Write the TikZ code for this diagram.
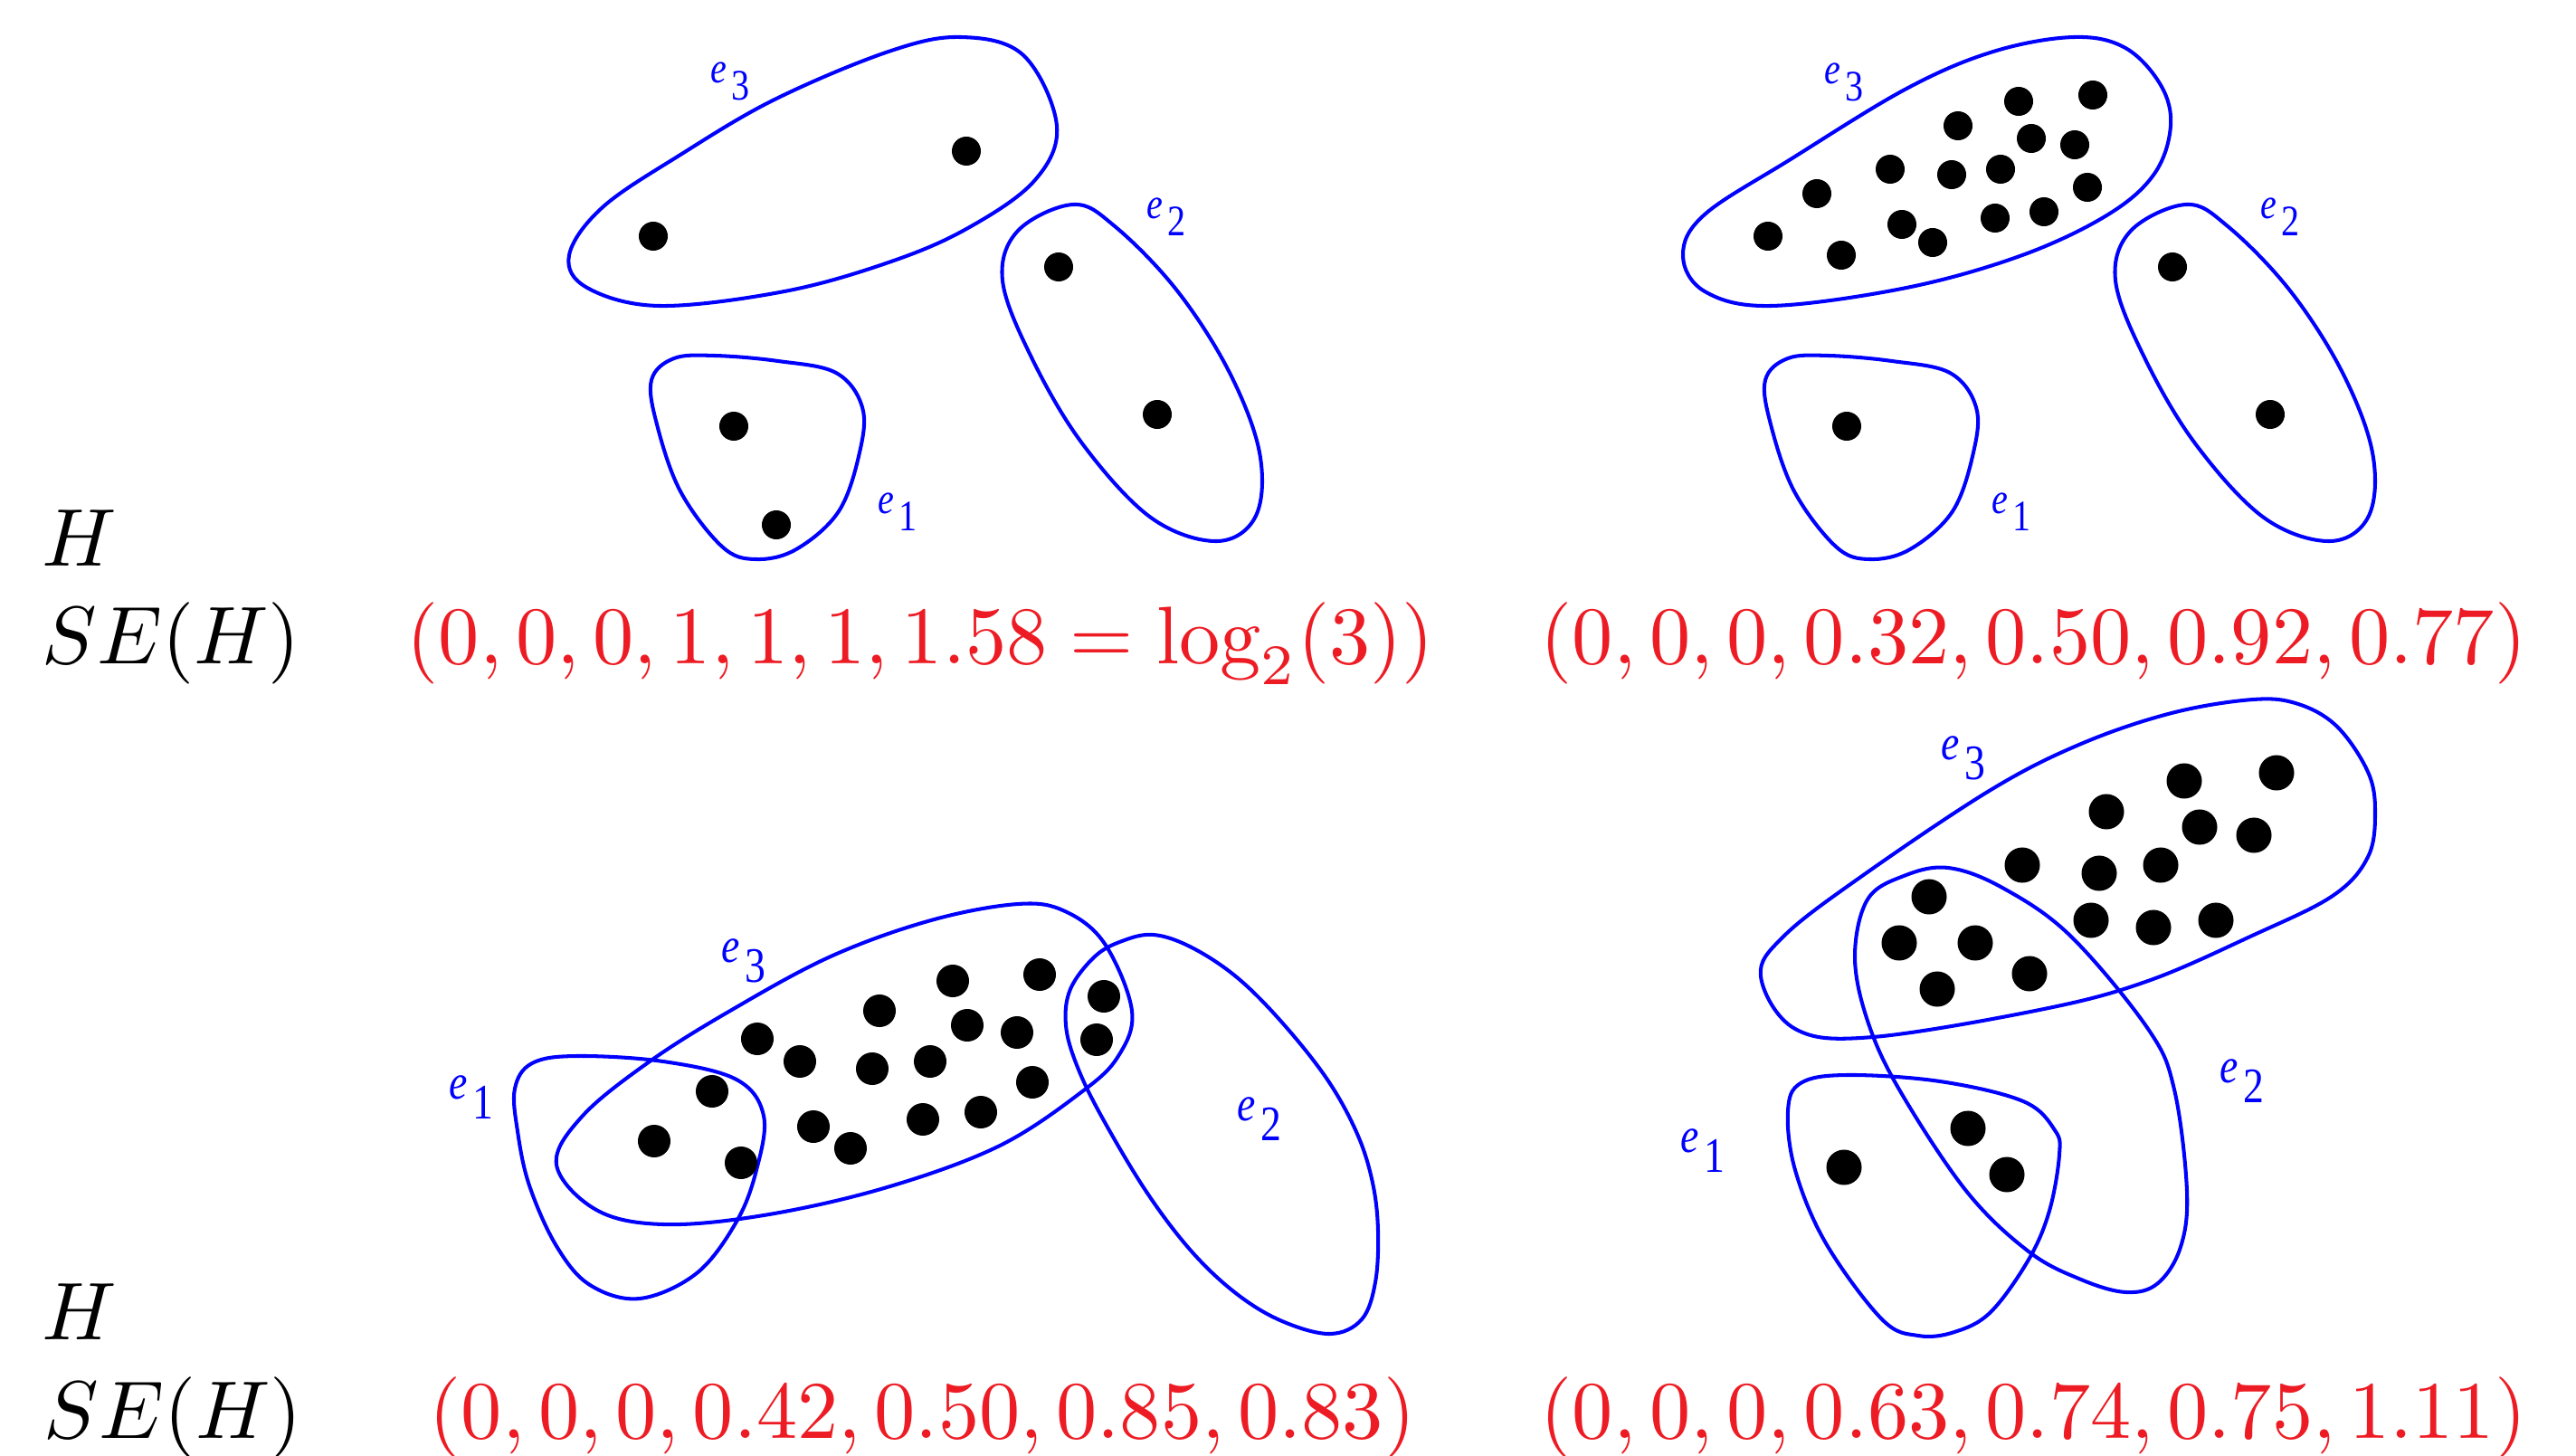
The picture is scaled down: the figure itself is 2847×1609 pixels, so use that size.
\documentclass[tikz,border=0pt]{standalone}
\usepackage{amsmath}
\usepackage{fontspec}
\newfontfamily\timesfont{Liberation Serif}
\usepackage{tikz}

\definecolor{edgeblue}{RGB}{0,0,255}
\definecolor{sered}{RGB}{237,28,36}

% edge label e_i, small Times letters
\newcommand{\elab}[1]{\scalebox{1}[1.2]{\timesfont\itshape e\hspace{0.12em}\upshape\raisebox{-0.4em}{#1}}}
% 10pt math blown up, as in the scanned figure
\newcommand{\bigmath}[1]{\scalebox{2.57}{$#1$}}

\begin{document}
\begin{tikzpicture}[
    x=0.01cm, y=-0.01cm,
    hedge/.style={draw=edgeblue, line width=1.15pt},
    vtx/.style={circle, fill=black, inner sep=0pt, minimum size=#1},
    elabel/.style={text=edgeblue, inner sep=0pt, font=\fontsize{#1}{#1}\selectfont},
    mathtxt/.style={anchor=base west, inner sep=0pt},
    seval/.style={mathtxt, text=sered}
]
\useasboundingbox (0,0) rectangle (2847,1609);

% Top-left hypergraph
\draw[hedge] plot[smooth cycle, tension=0.6] coordinates {(629,282) (666,229) (752,171) (856,110) (982,57) (1062,41) (1131,61) (1168,139) (1143,200) (1068,253) (982,290) (867,322) (729,338) (649,318)};
\draw[hedge] plot[smooth cycle, tension=0.6] coordinates {(1186,226) (1232,250) (1300,320) (1358,410) (1392,500) (1388,570) (1345,598) (1272,572) (1196,490) (1140,395) (1108,310) (1125,255)};
\draw[hedge] plot[smooth cycle, tension=0.6] coordinates {(720,420) (745,396) (790,393) (860,399) (924,412) (953,450) (950,500) (927,565) (880,607) (835,618) (798,604) (752,543) (726,469)};
\foreach \x/\y [count=\i] in {722/261, 1068/167, 1170/295, 1279/458, 811/471, 858/580}
    \node[vtx=0.32cm] (tl\i) at (\x,\y) {};
\node[elabel=11.4] (tle3) at (807,90) {\elab{3}};
\node[elabel=11.4] (tle2) at (1289,240) {\elab{2}};
\node[elabel=11.4] (tle1) at (992,566) {\elab{1}};

% Top-right hypergraph
\draw[hedge] plot[smooth cycle, tension=0.6] coordinates {(1860,282) (1884,237) (1979,176) (2107,98) (2203,57) (2292,41) (2349,53) (2388,94) (2399,139) (2381,192) (2330,237) (2235,282) (2107,318) (1957,338) (1884,322)};
\draw[hedge] plot[smooth cycle, tension=0.6] coordinates {(2416,226) (2462,250) (2530,320) (2588,410) (2622,500) (2618,570) (2575,598) (2502,572) (2426,490) (2370,395) (2338,310) (2355,255)};
\draw[hedge] plot[smooth cycle, tension=0.6] coordinates {(1951,420) (1976,396) (2021,393) (2091,399) (2155,412) (2184,450) (2181,500) (2158,565) (2111,607) (2066,618) (2029,604) (1983,543) (1957,469)};
\foreach \x/\y [count=\i] in {1954/261, 2008/214, 2035/282, 2089/187, 2102/248, 2136/268, 2157/193, 2164/139,
    2205/241, 2211/187, 2231/112, 2245/153, 2259/234, 2293/160, 2307/207, 2313/105,
    2401/295, 2509/458, 2041/471}
    \node[vtx=0.32cm] (tr\i) at (\x,\y) {};
\node[elabel=11.4] (tre3) at (2038,91) {\elab{3}};
\node[elabel=11.4] (tre2) at (2520,240) {\elab{2}};
\node[elabel=11.4] (tre1) at (2223,566) {\elab{1}};

% Bottom-left hypergraph
\draw[hedge] plot[smooth cycle, tension=0.6] coordinates {(615,1287) (644,1233) (718,1173) (807,1117) (918,1057) (1029,1017) (1125,999) (1177,1007) (1221,1043) (1251,1117) (1236,1167) (1195,1207) (1103,1267) (977,1313) (844,1343) (733,1353) (659,1337)};
\draw[hedge] plot[smooth cycle, tension=0.6] coordinates {(569,1203) (588,1175) (637,1167) (733,1173) (814,1193) (844,1233) (836,1293) (814,1350) (770,1407) (707,1435) (652,1420) (615,1377) (585,1310) (572,1250)};
\draw[hedge] plot[smooth cycle, tension=0.6] coordinates {(1275,1033) (1317,1047) (1367,1080) (1417,1130) (1467,1193) (1500,1253) (1517,1307) (1523,1360) (1520,1417) (1505,1458) (1470,1474) (1417,1460) (1367,1430) (1317,1383) (1267,1317) (1217,1233) (1190,1177) (1178,1133) (1183,1093) (1210,1057) (1240,1040)};
\foreach \x/\y [count=\i] in {723/1261, 787/1206, 819/1285, 837/1148, 884/1173, 899/1245, 940/1269, 964/1181,
    972/1117, 1020/1237, 1028/1173, 1053/1084, 1069/1133, 1084/1229, 1124/1141, 1141/1196,
    1149/1077, 1212/1149, 1220/1101}
    \node[vtx=0.36cm] (bl\i) at (\x,\y) {};
\node[elabel=13] (ble1) at (521,1213) {\elab{1}};
\node[elabel=13] (ble3) at (822,1062) {\elab{3}};
\node[elabel=13] (ble2) at (1392,1237) {\elab{2}};

% Bottom-right hypergraph
\draw[hedge] plot[smooth cycle, tension=0.6] coordinates {(1946,1079) (1972,1034) (2058,968) (2200,873) (2300,822) (2400,788) (2490,773) (2540,778) (2583,803) (2617,853) (2625,897) (2617,947) (2578,990) (2489,1034) (2374,1084) (2259,1115) (2070,1146) (1984,1137)};
\draw[hedge] plot[smooth cycle, tension=0.6] coordinates {(2153,959) (2213,981) (2288,1034) (2374,1137) (2403,1204) (2417,1316) (2410,1378) (2385,1418) (2350,1428) (2300,1414) (2242,1383) (2173,1316) (2099,1204) (2064,1128) (2050,1057) (2064,994) (2104,968)};
\draw[hedge] plot[smooth cycle, tension=0.6] coordinates {(1976,1228) (1990,1197) (2041,1188) (2144,1195) (2236,1217) (2271,1249) (2276,1276) (2265,1338) (2242,1392) (2200,1450) (2160,1472) (2120,1476) (2080,1458) (2018,1374) (1984,1293)};
\foreach \x/\y [count=\i] in {2516/854, 2414/863, 2328/897, 2431/914, 2491/923, 2235/956, 2320/965, 2388/956,
    2132/991, 2311/1017, 2380/1025, 2449/1017, 2099/1042, 2183/1042, 2243/1076, 2141/1093,
    2038/1290, 2175/1247, 2218/1298}
    \node[vtx=0.39cm] (br\i) at (\x,\y) {};
\node[elabel=13] (bre3) at (2170,838) {\elab{3}};
\node[elabel=13] (bre2) at (2478,1195) {\elab{2}};
\node[elabel=13] (bre1) at (1882,1272) {\elab{1}};

% Row captions and entropy vectors
\node[mathtxt] (h1) at (46,625) {\bigmath{H}};
\node[mathtxt] (se1) at (46,733) {\bigmath{SE(H)}};
\node[seval] (v1) at (449,733) {\bigmath{(0,0,0,1,1,1,1.58=\log_2(3))}};
\node[seval] (v2) at (1702,733) {\bigmath{(0,0,0,0.32,0.50,0.92,0.77)}};
\node[mathtxt] (h2) at (46,1480) {\bigmath{H}};
\node[mathtxt] (se2) at (48,1589) {\bigmath{SE(H)}};
\node[seval] (v3) at (474,1589) {\bigmath{(0,0,0,0.42,0.50,0.85,0.83)}};
\node[seval] (v4) at (1702,1589) {\bigmath{(0,0,0,0.63,0.74,0.75,1.11)}};

\end{tikzpicture}
\end{document}
